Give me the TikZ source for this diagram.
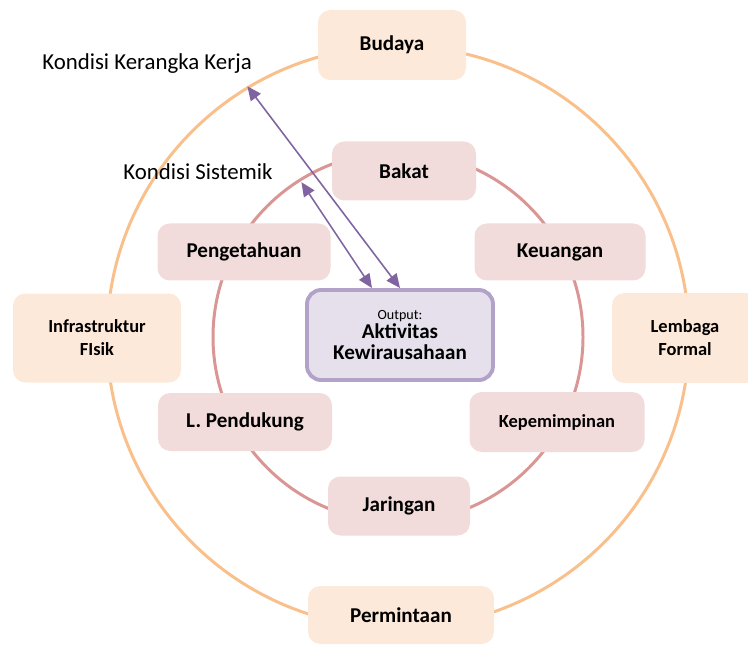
\documentclass[tikz,border=0pt]{standalone}
\usepackage{fontspec}
\setmainfont{Carlito}
\usetikzlibrary{positioning, arrows.meta, calc}
\definecolor{ringorange}{HTML}{F9C08C}
\definecolor{ringrose}{HTML}{D99694}
\definecolor{peach}{HTML}{FDE9D9}
\definecolor{rose}{HTML}{F2DCDB}
\definecolor{lavender}{HTML}{E5E0EC}
\definecolor{lavborder}{HTML}{B3A2C7}
\definecolor{violet}{HTML}{8064A2}

\begin{document}
\begin{tikzpicture}[
			ring/.style={circle, draw=#1, line width=1.7pt, inner sep=0pt},
			outerbox/.style={rectangle, fill=peach, rounded corners=7pt, align=center,
				font=\fontsize{12}{14}\selectfont\bfseries},
			innerbox/.style={rectangle, fill=rose, rounded corners=7pt, align=center,
				font=\fontsize{12}{14}\selectfont\bfseries},
			outbox/.style={rectangle, draw=lavborder, line width=2.2pt, fill=lavender,
				rounded corners=8pt, align=center},
			link/.style={{Triangle[length=8pt,width=7pt]}-{Triangle[length=8pt,width=7pt]},
				line width=0.9pt, color=violet},
			note/.style={font=\fontsize{13}{15}\selectfont}
			]
			\useasboundingbox (0,0) rectangle (14.96,13.1);
			
			% Lingkaran kondisi
			\node[ring=ringorange, minimum size=11.64cm] (outer) at (7.96,6.36) {};
			\node[ring=ringrose, minimum size=7.4cm] (inner) at (7.96,6.36) {};
			
			% Kondisi kerangka kerja (luar)
			\node[outerbox, minimum width=2.96cm, minimum height=1.4cm] (budaya) at (7.84,12.2) {Budaya};
			\node[outerbox, minimum width=3.36cm, minimum height=1.78cm, font=\fontsize{10.5}{13}\selectfont\bfseries] (infra) at (1.94,6.34) {Infrastruktur\\FIsik};
			\node[outerbox, minimum width=2.92cm, minimum height=1.8cm, font=\fontsize{10.5}{13}\selectfont\bfseries] (lembaga) at (13.7,6.34) {Lembaga\\Formal};
			\node[outerbox, minimum width=3.72cm, minimum height=1.16cm] (permintaan) at (8.02,0.8) {Permintaan};
			
			% Kondisi sistemik (dalam)
			\node[innerbox, minimum width=2.88cm, minimum height=1.18cm] (bakat) at (8.08,9.68) {Bakat};
			\node[innerbox, minimum width=3.46cm, minimum height=1.14cm] (pengetahuan) at (4.88,8.06) {Pengetahuan};
			\node[innerbox, minimum width=3.42cm, minimum height=1.14cm] (keuangan) at (11.2,8.06) {Keuangan};
			\node[innerbox, minimum width=3.48cm, minimum height=1.16cm] (pendukung) at (4.9,4.66) {L. Pendukung};
			\node[innerbox, minimum width=3.5cm, minimum height=1.2cm, font=\fontsize{10.5}{13}\selectfont\bfseries] (kepemimpinan) at (11.14,4.66) {Kepemimpinan};
			\node[innerbox, minimum width=2.84cm, minimum height=1.18cm] (jaringan) at (7.98,2.98) {Jaringan};
			
			% Output
			\node[outbox, minimum width=3.72cm, minimum height=1.8cm] (out) at (8.0,6.4)
			{{\fontsize{8}{10}\selectfont Output:}\\[-1pt]
				{\fontsize{12}{14}\selectfont\bfseries Aktivitas}\\
				{\fontsize{12}{14}\selectfont\bfseries Kewirausahaan}};
			
			% Label
			\node[note] (kkk) at (2.94,11.82) {Kondisi Kerangka Kerja};
			\node[note] (ks) at (3.96,9.66) {Kondisi Sistemik};
			
			% Panah dua arah
			\draw[link] (outer.121) -- (out.north);
			\draw[link, shorten <=0.08cm] (inner.122) -- ($(out.north)+(-0.56,0)$);
			
		\end{tikzpicture}
\end{document}
